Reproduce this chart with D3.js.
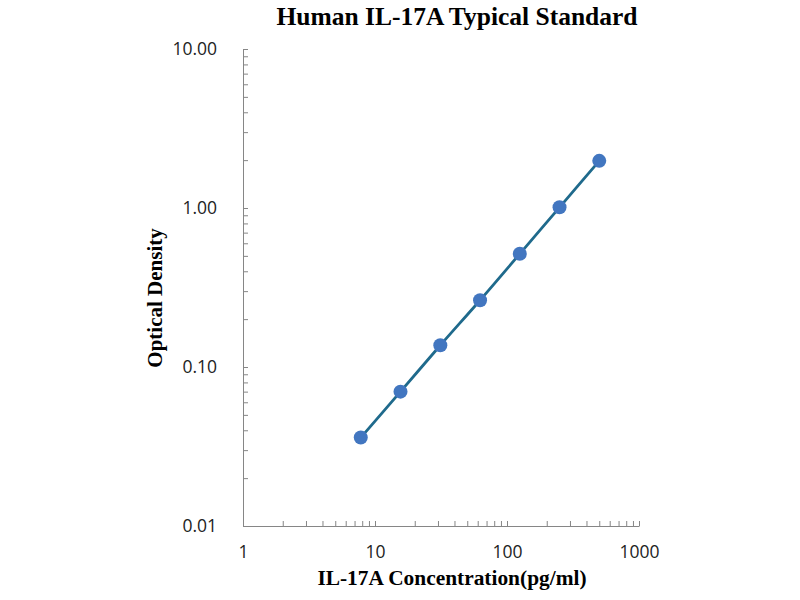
<!DOCTYPE html>
<html>
<head>
<meta charset="utf-8">
<script src="https://cdn.jsdelivr.net/npm/d3@7"></script>
<style>
  body { margin: 0; background: #fff; }
  .tick text { font-family: "Open Sans", sans-serif; font-size: 17.5px; fill: #222; }
  .axis path, .axis line { stroke: #868686; }
</style>
</head>
<body>
<script>
// standard curve values
const concentration = [7.8, 15.6, 31.25, 62.5, 125, 250, 500];
const opticalDensity = [0.036, 0.070, 0.137, 0.263, 0.515, 1.01, 1.98];
const xDomain = [1, 1000];
const yDomain = [0.01, 10];

const width = 800, height = 600;
const plotLeft = 243, plotRight = 639, plotTop = 49, plotBottom = 526;

const svg = d3.select("body").append("svg")
    .attr("width", width).attr("height", height);

const x = d3.scaleLog().domain(xDomain).range([plotLeft, plotRight]);
const y = d3.scaleLog().domain(yDomain).range([plotBottom, plotTop]);

const isPow10 = v => Math.abs(Math.log10(v) - Math.round(Math.log10(v))) < 1e-9;

// x axis, ticks pointing inward
svg.append("g").attr("class", "axis")
    .attr("transform", "translate(0," + plotBottom + ")")
    .call(d3.axisBottom(x).tickSizeInner(-5).tickSizeOuter(0).tickPadding(20)
        .tickFormat(d => isPow10(d) ? d3.format("d")(d) : ""));

// y axis
svg.append("g").attr("class", "axis")
    .attr("transform", "translate(" + plotLeft + ",0)")
    .call(d3.axisLeft(y).tickSizeInner(-5).tickSizeOuter(0).tickPadding(26)
        .tickFormat(d => isPow10(d) ? d3.format(".2f")(d) : ""));

const pts = concentration.map((c, i) => [c, opticalDensity[i]]);

// smoothed line like excel
svg.append("path")
    .datum(pts)
    .attr("fill", "none")
    .attr("stroke", "#1f6a8c")
    .attr("stroke-width", 2.8)
    .attr("d", d3.line().x(d => x(d[0])).y(d => y(d[1])).curve(d3.curveCatmullRom));

svg.selectAll("circle.pt")
    .data(pts).enter()
    .append("circle")
    .attr("class", "pt")
    .attr("cx", d => x(d[0]))
    .attr("cy", d => y(d[1]))
    .attr("r", 7)
    .attr("fill", "#4276c0");

// titles
svg.append("text")
    .attr("x", 457).attr("y", 25)
    .attr("text-anchor", "middle")
    .style("font-family", "'Liberation Serif', serif")
    .style("font-weight", "bold").style("font-size", "25.5px")
    .text("Human IL-17A Typical Standard");

svg.append("text")
    .attr("x", 452).attr("y", 585)
    .attr("text-anchor", "middle")
    .style("font-family", "'Liberation Serif', serif")
    .style("font-weight", "bold").style("font-size", "21.4px")
    .text("IL-17A Concentration(pg/ml)");

svg.append("text")
    .attr("transform", "translate(162,298) rotate(-90)")
    .attr("text-anchor", "middle")
    .style("font-family", "'Liberation Serif', serif")
    .style("font-weight", "bold").style("font-size", "21px")
    .text("Optical Density");
</script>
</body>
</html>
